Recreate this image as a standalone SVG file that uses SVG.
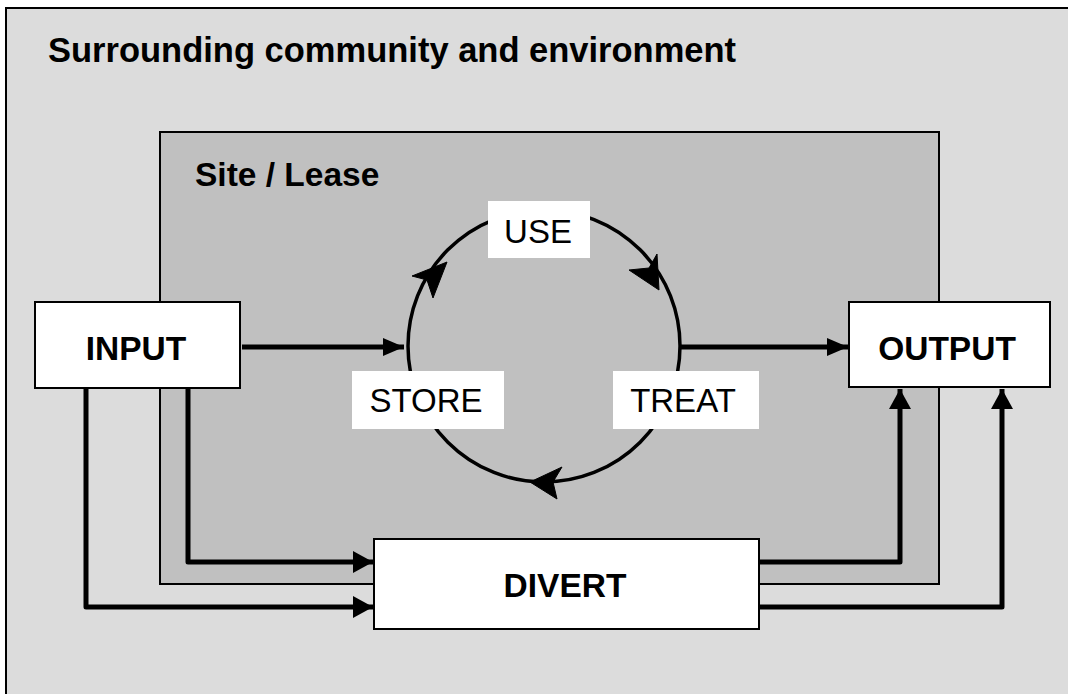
<svg xmlns="http://www.w3.org/2000/svg" width="1068" height="694" viewBox="0 0 1068 694">
<style>
.bold{font-family:"Liberation Sans",Arial,sans-serif;font-weight:bold;fill:#000}
.reg{font-family:"Liberation Sans",Arial,sans-serif;fill:#000}
.box{fill:#fff;stroke:#000;stroke-width:2}
.lab{fill:#fff;stroke:none}
.conn{fill:none;stroke:#000;stroke-width:5;stroke-linejoin:round}
.ring{fill:none;stroke:#000;stroke-width:3.5}
.head{fill:#000;stroke:#000;stroke-width:1}
</style>
<defs>
<marker id="ah" viewBox="0 0 20 22" refX="20" refY="11" markerWidth="20" markerHeight="22" markerUnits="userSpaceOnUse" orient="auto">
<path d="M0,0 L20,11 L0,22 Z" fill="#000"/>
</marker>
<marker id="ahs" viewBox="0 0 21 20" refX="21" refY="10" markerWidth="21" markerHeight="20" markerUnits="userSpaceOnUse" orient="auto">
<path d="M0,1 L21,10 L0,19 Z" fill="#000"/>
</marker>
</defs>
<rect width="1068" height="694" fill="#fff"/>
<g id="environment">
<rect x="6" y="8" width="1080" height="700" fill="#dcdcdc" stroke="#000" stroke-width="2"/>
<text class="bold" x="48" y="62" font-size="34.5">Surrounding community and environment</text>
</g>
<g id="site">
<rect x="160" y="132" width="779" height="452" fill="#c0c0c0" stroke="#000" stroke-width="2"/>
<text class="bold" x="195" y="186" font-size="33.5">Site / Lease</text>
</g>
<g id="connectors">
<circle class="ring" cx="544" cy="346" r="136"/>
<path class="conn" d="M242,347 H404" marker-end="url(#ahs)"/>
<path class="conn" d="M680,347 H848" marker-end="url(#ahs)"/>
<path class="conn" d="M86,389 V607 H373" marker-end="url(#ah)"/>
<path class="conn" d="M188,389 V562 H373" marker-end="url(#ah)"/>
<path class="conn" d="M760,562 H900 V389" marker-end="url(#ah)"/>
<path class="conn" d="M760,607 H1002 V389" marker-end="url(#ah)"/>
<path class="head" d="M447,262 L412,276 L427,280 L433,298 Z"/>
<path class="head" d="M659,290 L657,254 L649,268 L629,270 Z"/>
<path class="head" d="M530,482 L562,467 L553,482 L557,499 Z"/>
</g>
<g id="use">
<rect class="lab" x="488" y="201" width="102" height="57"/>
<text class="reg" x="538" y="243" font-size="33" text-anchor="middle">USE</text>
</g>
<g id="store">
<rect class="lab" x="352" y="371" width="152" height="58"/>
<text class="reg" x="426" y="412" font-size="33" text-anchor="middle">STORE</text>
</g>
<g id="treat">
<rect class="lab" x="613" y="371" width="146" height="58"/>
<text class="reg" x="683" y="412" font-size="33" text-anchor="middle">TREAT</text>
</g>
<g id="input">
<rect class="box" x="35" y="302" width="205" height="86"/>
<text class="bold" x="136" y="360" font-size="33.5" text-anchor="middle">INPUT</text>
</g>
<g id="output">
<rect class="box" x="849" y="302" width="201" height="85"/>
<text class="bold" x="947" y="360" font-size="33.5" text-anchor="middle">OUTPUT</text>
</g>
<g id="divert">
<rect class="box" x="374" y="539" width="385" height="90"/>
<text class="bold" x="565" y="597" font-size="33.5" text-anchor="middle">DIVERT</text>
</g>
</svg>
